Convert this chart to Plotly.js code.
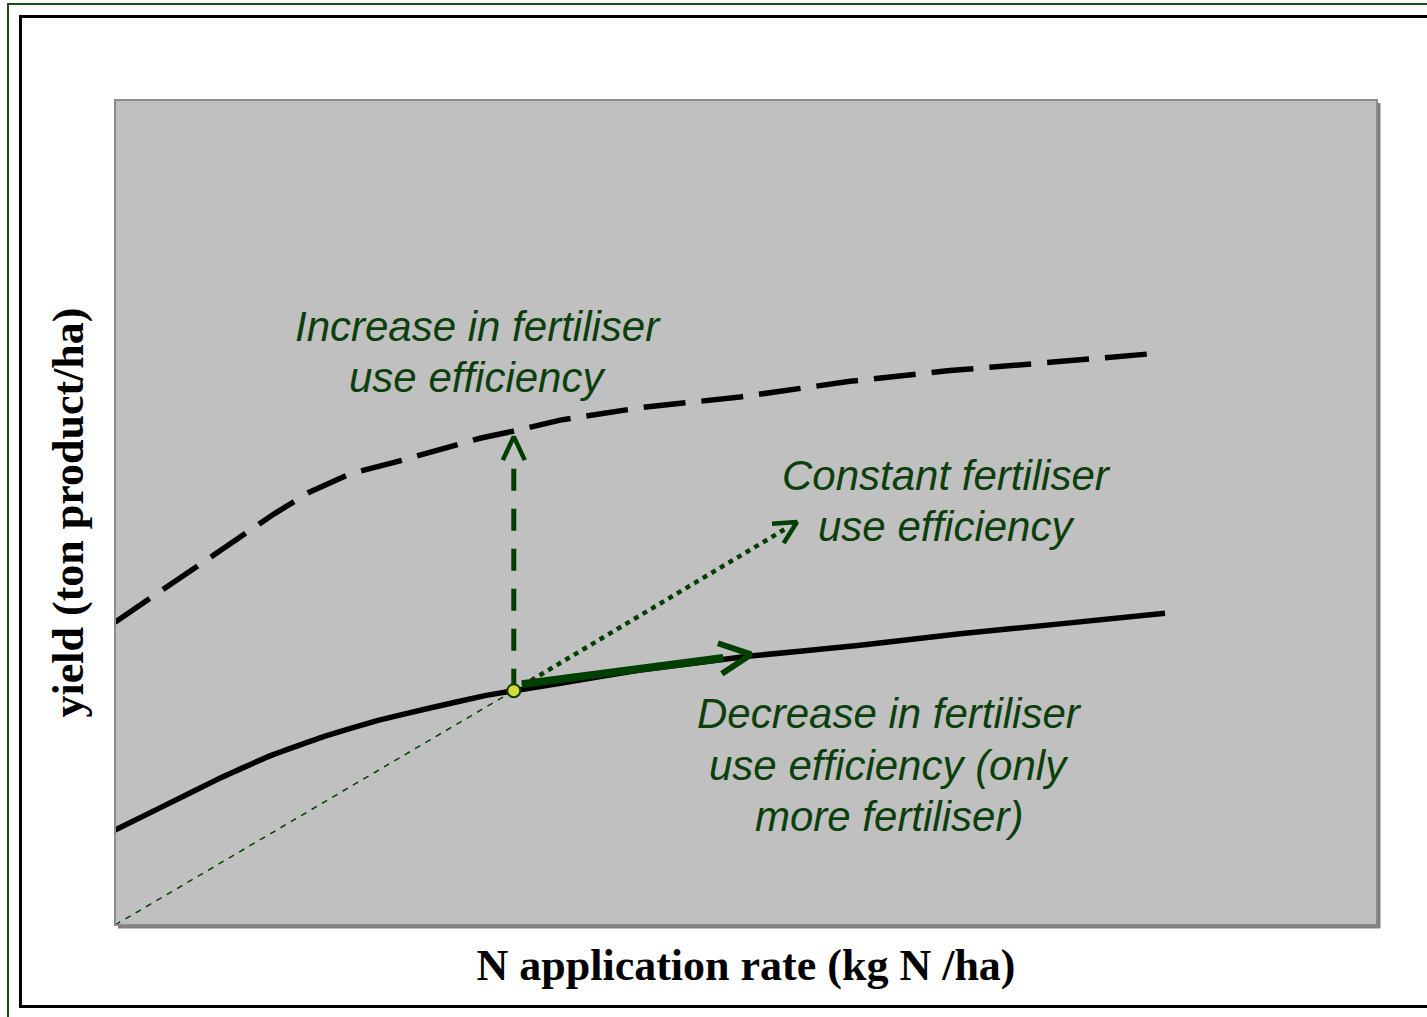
<!DOCTYPE html>
<html>
<head>
<meta charset="utf-8">
<script src="https://cdn.plot.ly/plotly-3.0.1.min.js"></script>
<style>html,body{margin:0;padding:0;background:#fff;}#chart{width:1427px;height:1017px;}</style>
</head>
<body>
<div id="chart"></div>
<script>
// ---- data (N rate, kg N/ha ; yield, ton/ha) ----
var baseN     = [0, 8.9, 20.8, 30.7, 41.6, 52.1, 62.4, 73.3, 79.0, 88.2, 104.0, 125.8, 147.6, 167.4, 187.2, 208.0];
var baseYield = [1.15, 1.42, 1.78, 2.05, 2.29, 2.48, 2.63, 2.78, 2.84, 2.93, 3.09, 3.26, 3.39, 3.53, 3.65, 3.78];

var improvedN     = [0, 12.9, 22.8, 31.7, 38.6, 46.6, 55.5, 62.4, 72.3, 79.2, 88.2, 104.0, 123.8, 145.6, 165.4, 185.2, 206.4];
var improvedYield = [3.67, 4.21, 4.63, 4.99, 5.25, 5.47, 5.61, 5.73, 5.90, 5.99, 6.12, 6.27, 6.40, 6.59, 6.72, 6.82, 6.93];

var currentPoint = {n: 79.0, y: 2.84};
var originLine   = {n: [0, 79.0], y: [0, 2.84]};
var arrowIncrease = {n: [79.0, 79.0], y: [2.84, 5.92]};   // vertical: more yield, same N
var arrowConstant = {n: [79.0, 135.1], y: [2.84, 4.885]}; // along constant efficiency
var arrowDecrease = {n: [80.6, 126.0], y: [2.92, 3.28]};  // only more fertiliser

var labelIncrease = ["Increase in fertiliser", "use efficiency"];
var labelConstant = ["Constant fertiliser", "use efficiency"];
var labelDecrease = ["Decrease in fertiliser", "use efficiency (only", "more fertiliser)"];

var xTitle = "N application rate (kg N /ha)";
var yTitle = "yield (ton product/ha)";

// ---- layout constants ----
var W = 1427, H = 1017;
var M = {l: 115, r: 50, t: 100, b: 92};
var xRange = [0, 250], yRange = [0, 10];
var plotW = W - M.l - M.r, plotH = H - M.t - M.b;
var pxX = plotW / (xRange[1] - xRange[0]);
var pxY = plotH / (yRange[1] - yRange[0]);
var GREEN = '#003f00';
var TXT = '#0b3f0b';

function paperX(px) { return (px - M.l) / plotW; }
function paperY(py) { return (H - M.b - py) / plotH; }

// shorten shaft & build open chevron head (computed in pixel space from the data end points)
function arrowParts(xs, ys, headLen, halfAngleDeg, shaftGapPx) {
  var x0 = xs[0], y0 = ys[0], x1 = xs[xs.length - 1], y1 = ys[ys.length - 1];
  var dx = (x1 - x0) * pxX, dy = (y1 - y0) * pxY;
  var L = Math.sqrt(dx * dx + dy * dy);
  var ux = dx / L, uy = dy / L;
  var shaftEnd = [x1 - ux * shaftGapPx / pxX, y1 - uy * shaftGapPx / pxY];
  var a = halfAngleDeg * Math.PI / 180;
  function arm(sign) {
    var bx = -ux, by = -uy;
    var rx = bx * Math.cos(sign * a) - by * Math.sin(sign * a);
    var ry = bx * Math.sin(sign * a) + by * Math.cos(sign * a);
    return [x1 + rx * headLen / pxX, y1 + ry * headLen / pxY];
  }
  var p1 = arm(1), p2 = arm(-1);
  return {
    shaft: {x: [x0, shaftEnd[0]], y: [y0, shaftEnd[1]]},
    head: {x: [p1[0], x1, p2[0]], y: [p1[1], y1, p2[1]]}
  };
}

var aInc = arrowParts(arrowIncrease.n, arrowIncrease.y, 26, 25, 18);
var aCon = arrowParts(arrowConstant.n, arrowConstant.y, 25, 27, 14);
var aDec = arrowParts(arrowDecrease.n, arrowDecrease.y, 35, 26, 28);

var traces = [
  {x: improvedN, y: improvedYield, mode: 'lines', line: {color: '#000', width: 5.5, dash: '42px,16px'}, hoverinfo: 'skip'},
  {x: baseN, y: baseYield, mode: 'lines', line: {color: '#000', width: 5.5, shape: 'spline', smoothing: 0.3}, hoverinfo: 'skip'},
  {x: originLine.n, y: originLine.y, mode: 'lines', line: {color: GREEN, width: 1.5, dash: '6px,6px'}, hoverinfo: 'skip'},
  {x: aInc.shaft.x, y: aInc.shaft.y, mode: 'lines', line: {color: GREEN, width: 5, dash: '22px,18px'}, hoverinfo: 'skip'},
  {x: aInc.head.x, y: aInc.head.y, mode: 'lines', line: {color: GREEN, width: 4.5}, hoverinfo: 'skip'},
  {x: aCon.shaft.x, y: aCon.shaft.y, mode: 'lines', line: {color: GREEN, width: 4.5, dash: '5px,5px'}, hoverinfo: 'skip'},
  {x: aCon.head.x, y: aCon.head.y, mode: 'lines', line: {color: GREEN, width: 4.5}, hoverinfo: 'skip'},
  {x: aDec.shaft.x, y: aDec.shaft.y, mode: 'lines', line: {color: GREEN, width: 8}, hoverinfo: 'skip'},
  {x: aDec.head.x, y: aDec.head.y, mode: 'lines', line: {color: GREEN, width: 6}, hoverinfo: 'skip'},
  {x: [currentPoint.n], y: [currentPoint.y], mode: 'markers', marker: {size: 13, color: '#d8d83a', line: {color: GREEN, width: 2}}, hoverinfo: 'skip'}
];

function textLines(lines, xc, ys) {
  return lines.map(function (t, i) {
    return {text: t, x: xc, y: ys[i], xref: 'x', yref: 'y', showarrow: false,
      xanchor: 'center', yanchor: 'middle',
      font: {family: 'Liberation Sans, Arial, sans-serif', size: 42, style: 'italic', color: TXT}};
  });
}
var annotations = []
  .concat(textLines(labelIncrease, 71.9, [7.26, 6.64]))
  .concat(textLines(labelConstant, 164.8, [5.45, 4.83]))
  .concat(textLines(labelDecrease, 153.4, [2.56, 1.93, 1.32]));

var shapes = [
  // outer dark green frame
  {type: 'rect', xref: 'paper', yref: 'paper', x0: paperX(8), x1: paperX(1460), y0: paperY(1060), y1: paperY(4),
   line: {color: '#1b4a1b', width: 2}, layer: 'below'},
  // inner black frame
  {type: 'rect', xref: 'paper', yref: 'paper', x0: paperX(20.5), x1: paperX(1460), y0: paperY(1006.5), y1: paperY(16.5),
   line: {color: '#000', width: 3}, layer: 'below'},
  // plot-area frame and shadow
  {type: 'rect', xref: 'paper', yref: 'paper', x0: 0, x1: 1, y0: 0, y1: 1, line: {color: '#8c8c8c', width: 2}, layer: 'above'},
  {type: 'line', xref: 'paper', yref: 'paper', x0: paperX(1379), x1: paperX(1379), y0: paperY(103), y1: paperY(928),
   line: {color: '#808080', width: 3}},
  {type: 'line', xref: 'paper', yref: 'paper', x0: paperX(118), x1: paperX(1380), y0: paperY(927), y1: paperY(927),
   line: {color: '#808080', width: 3}}
];

var layout = {
  width: W, height: H,
  margin: M,
  paper_bgcolor: 'rgba(0,0,0,0)',
  plot_bgcolor: '#c0c0c0',
  showlegend: false,
  xaxis: {range: xRange, showgrid: false, zeroline: false, showticklabels: false, ticks: '', showline: false,
    title: {text: xTitle, standoff: 24, font: {family: 'Liberation Serif, Times New Roman, serif', size: 44, weight: 'bold', color: '#000'}}},
  yaxis: {range: yRange, showgrid: false, zeroline: false, showticklabels: false, ticks: '', showline: false,
    title: {text: yTitle, standoff: 16, font: {family: 'Liberation Serif, Times New Roman, serif', size: 44, weight: 'bold', color: '#000'}}},
  annotations: annotations,
  shapes: shapes
};

Plotly.newPlot('chart', traces, layout, {displayModeBar: false, staticPlot: true});
</script>
</body>
</html>
